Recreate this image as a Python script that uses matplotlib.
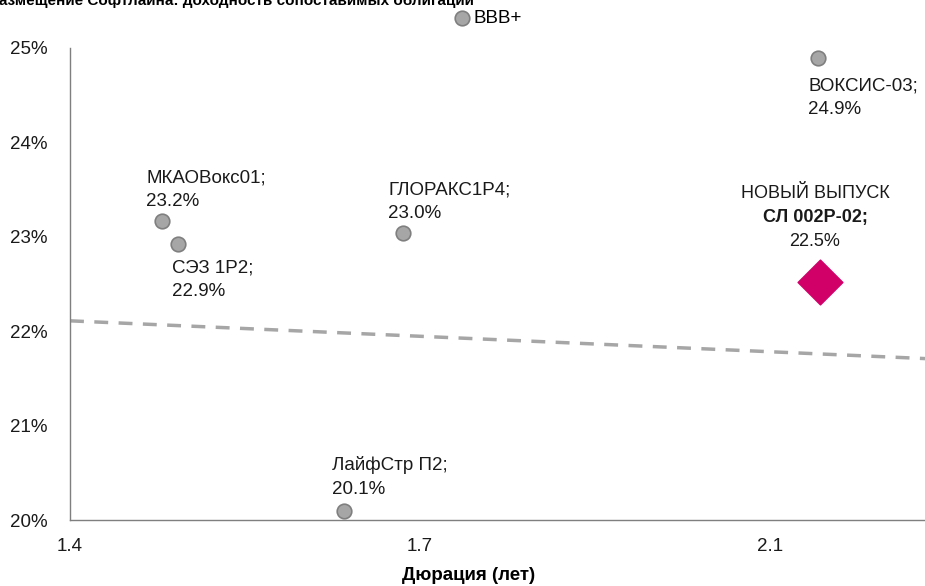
import matplotlib.pyplot as plt
import matplotlib.ticker as mticker

plt.rcParams['font.family'] = ['Liberation Sans', 'DejaVu Sans']

# сопоставимые выпуски (дюрация, лет; доходность, %)
names = ['МКАОВокс01', 'СЭЗ 1Р2', 'ГЛОРАКС1Р4', 'ЛайфСтр П2', 'ВОКСИС-03']
dur = [1.492, 1.508, 1.733, 1.674, 2.148]
ytm = [23.17, 22.92, 23.04, 20.10, 24.89]
lbl = ['23.2%', '22.9%', '23.0%', '20.1%', '24.9%']

# новый выпуск
new_dur = 2.15
new_ytm = 22.52

# кривая BBB+
curve_x = [1.4, 2.255]
curve_y = [22.11, 21.71]

xticks = [1.4, 1.75, 2.1]
xtick_lbl = ['1.4', '1.7', '2.1']

fig = plt.figure(figsize=(9.25, 5.86), dpi=100)
ax = fig.add_axes([0.0757, 0.1126, 0.9243, 0.8055])

ax.plot(curve_x, curve_y, ls=(0, (4, 3)), color='#a6a6a6', lw=2.5, zorder=1)
ax.scatter(dur, ytm, s=110, color='#a6a6a6', edgecolor='#7f7f7f', lw=1.2,
           zorder=3, label='BBB+')
ax.scatter([new_dur], [new_ytm], marker='D', s=520, color='#d10069', zorder=3)

# подписи: сдвиг центра текста от точки, px
fs = 13.5
px = 0.72
offs = [(-16, 31), (-6, -35.5), (-15, 31.5), (-12, 33.5), (-10, -39.5)]
for i in range(len(names)):
    dx, dy = offs[i]
    ax.annotate(names[i] + ';\n' + lbl[i], (dur[i], ytm[i]),
                xytext=(dx * px, dy * px), textcoords='offset points',
                ha='left', va='center', fontsize=fs, linespacing=1.5,
                color='#1a1a1a')

new_lines = ['НОВЫЙ ВЫПУСК', 'СЛ 002Р-02;', '22.5%']
new_dy = [89, 65, 41]
for j in range(3):
    ax.annotate(new_lines[j], (new_dur, new_ytm), xytext=(-5 * px, new_dy[j] * px),
                textcoords='offset points', ha='center', va='center', fontsize=13,
                fontweight='bold' if j == 1 else 'normal', color='#1a1a1a')

ax.set_xlim(1.4, 2.255)
ax.set_ylim(20, 25)
ax.set_xticks(xticks)
ax.set_xticklabels(xtick_lbl)
ax.set_yticks([20, 21, 22, 23, 24, 25])
ax.yaxis.set_major_formatter(mticker.FuncFormatter(lambda v, p: '%d%%' % v))
ax.tick_params(length=0, labelsize=fs, colors='#1a1a1a')
ax.tick_params(axis='x', pad=13)
ax.tick_params(axis='y', pad=16)

for s in ['top', 'right']:
    ax.spines[s].set_visible(False)
for s in ['left', 'bottom']:
    ax.spines[s].set_color('#7f7f7f')
    ax.spines[s].set_linewidth(1)

ax.set_xlabel('Дюрация (лет)', fontsize=fs, fontweight='bold')
ax.xaxis.set_label_coords(0.466, -0.1)

fig.text(-0.012, 0.998, 'Размещение Софтлайна: доходность сопоставимых облигаций',
         fontsize=11, fontweight='bold', va='center', ha='left')

fig.legend(loc='center', bbox_to_anchor=(0.527, 0.968), frameon=False,
           fontsize=fs, handletextpad=0.1, handlelength=1, borderpad=0)

fig.savefig('out.png', dpi=100)
